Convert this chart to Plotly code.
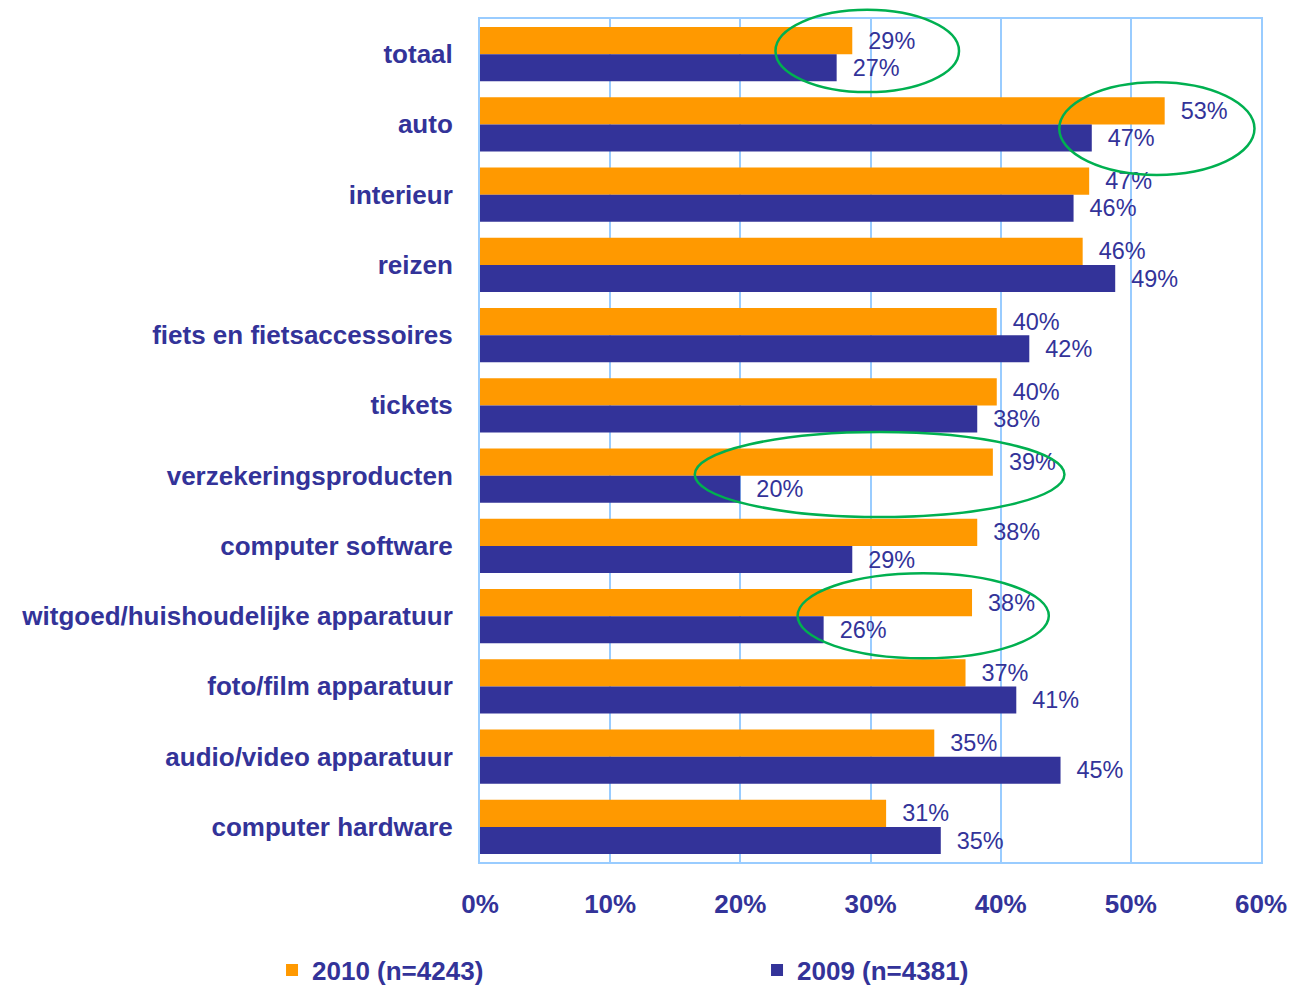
import plotly.graph_objects as go

categories = ["totaal", "auto", "interieur", "reizen", "fiets en fietsaccessoires",
              "tickets", "verzekeringsproducten", "computer software",
              "witgoed/huishoudelijke apparatuur", "foto/film apparatuur",
              "audio/video apparatuur", "computer hardware"]
values_2010 = [28.6, 52.6, 46.8, 46.3, 39.7, 39.7, 39.4, 38.2, 37.8, 37.3, 34.9, 31.2]
values_2009 = [27.4, 47.0, 45.6, 48.8, 42.2, 38.2, 20.0, 28.6, 26.4, 41.2, 44.6, 35.4]
name_2010 = "2010 (n=4243)"
name_2009 = "2009 (n=4381)"
x_ticks = [0, 10, 20, 30, 40, 50, 60]
x_tick_labels = ["0%", "10%", "20%", "30%", "40%", "50%", "60%"]
X_MAX = 60

# highlight ellipses: (x0, x1, y0, y1) in data units (% / category index)
highlights = [
    (22.7, 36.8, -0.63, 0.54),
    (44.5, 59.5, 0.40, 1.72),
    (16.5, 44.9, 5.38, 6.59),
    (24.4, 43.7, 7.39, 8.60),
]

ORANGE = "#FF9900"
NAVY = "#333399"
GRID = "#99CCFF"
GREEN = "#00B050"
FONT = "Liberation Sans, Arial, sans-serif"

fig = go.Figure()
fig.add_trace(go.Bar(
    y=categories, x=values_2010, name=name_2010, orientation="h",
    marker=dict(color=ORANGE, line=dict(width=0)),
    texttemplate="  %{x:.0f}%", textposition="outside", cliponaxis=False,
    textfont=dict(color=NAVY, size=26, family=FONT),
    legend="legend",
))
fig.add_trace(go.Bar(
    y=categories, x=values_2009, name=name_2009, orientation="h",
    marker=dict(color=NAVY, line=dict(width=0)),
    texttemplate="  %{x:.0f}%", textposition="outside", cliponaxis=False,
    textfont=dict(color=NAVY, size=26, family=FONT),
    legend="legend2",
))

# convert data-unit ellipses to paper coords so they are not clipped at the plot edge
n_cat = len(categories)
for x0, x1, y0, y1 in highlights:
    fig.add_shape(type="circle", xref="paper", yref="paper",
                  x0=x0 / X_MAX, x1=x1 / X_MAX,
                  y0=1 - (y0 + 0.5) / n_cat, y1=1 - (y1 + 0.5) / n_cat,
                  line=dict(color=GREEN, width=2.5), layer="above")

legend_common = dict(
    orientation="h", xref="paper", yref="paper",
    xanchor="left", yanchor="middle", y=-0.1281,
    font=dict(size=26, color=NAVY, family=FONT, weight="bold"),
    bgcolor="rgba(0,0,0,0)",
)

fig.update_layout(
    width=1289, height=986,
    margin=dict(l=480, r=28, t=19, b=124, autoexpand=False),
    paper_bgcolor="white", plot_bgcolor="white",
    barmode="group", bargap=0.23, bargroupgap=0,
    font=dict(family=FONT, color=NAVY),
    showlegend=True,
    legend=dict(x=-0.2663, **legend_common),
    legend2=dict(x=0.3547, **legend_common),
    xaxis=dict(
        range=[0, X_MAX], tickvals=x_ticks, ticktext=x_tick_labels,
        showgrid=True, gridcolor=GRID, gridwidth=2,
        showline=True, linecolor=GRID, linewidth=2, mirror=True,
        zeroline=False, ticks="", ticklabelstandoff=18, automargin=False,
        tickfont=dict(size=26, color=NAVY, family=FONT, weight="bold"),
    ),
    yaxis=dict(
        autorange="reversed", showgrid=False,
        showline=True, linecolor=GRID, linewidth=2, mirror=True,
        ticks="", ticklabelstandoff=20, automargin=False,
        tickfont=dict(size=26, color=NAVY, family=FONT, weight="bold"),
    ),
)

fig.write_html("out.html", config={"displayModeBar": False},
               post_script="document.body.style.margin='0';")
